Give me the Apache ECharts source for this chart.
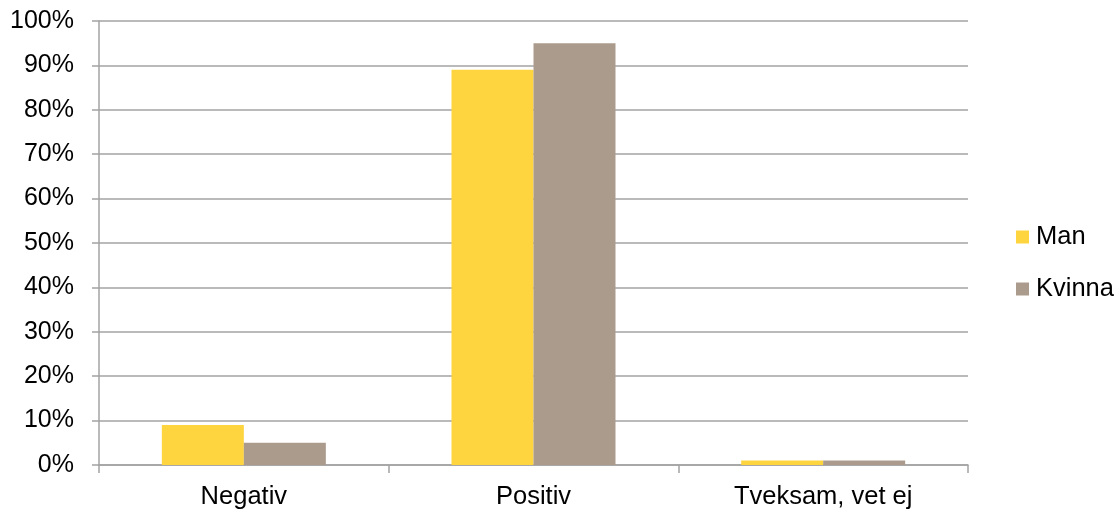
<!DOCTYPE html>
<html><head><meta charset="utf-8">
<script src="https://cdn.jsdelivr.net/npm/echarts@6/dist/echarts.min.js"></script>
<style>html,body{margin:0;padding:0;background:#fff}#c{width:1118px;height:514px}</style>
</head><body><div id="c"></div>
<script>
const categories = ['Negativ', 'Positiv', 'Tveksam, vet ej'];
const seriesNames = ['Man', 'Kvinna'];
const manValues = [9, 89, 1];
const kvinnaValues = [5, 95, 1];
const yTicks = [0, 10, 20, 30, 40, 50, 60, 70, 80, 90, 100];

const chart = echarts.init(document.getElementById('c'), null, {renderer: 'canvas'});
const font = 'Liberation Sans, Arial, sans-serif';
const lineCol = '#a3a3a3';
chart.setOption({
  animation: false,
  textStyle: {fontFamily: font},
  grid: {left: 99, right: 150, top: 21, bottom: 49, containLabel: false},
  legend: {
    orient: 'vertical', left: 1011, top: 219, itemGap: 26,
    itemWidth: 13, itemHeight: 13, icon: 'rect',
    textStyle: {fontSize: 25.5, lineHeight: 26, color: '#000', fontFamily: font, padding: [0, 0, 0, 2]},
    data: seriesNames
  },
  xAxis: {
    type: 'category', data: categories,
    axisLine: {lineStyle: {color: lineCol, width: 1.5}},
    axisTick: {show: true, length: 8, lineStyle: {color: lineCol, width: 1.5}},
    axisLabel: {fontSize: 25.5, color: '#000', margin: 19, fontFamily: font}
  },
  yAxis: {
    type: 'value', min: 0, max: 100, interval: 10,
    axisLine: {show: true, lineStyle: {color: lineCol, width: 1.5}},
    axisTick: {show: true, length: 7, lineStyle: {color: lineCol, width: 1.5}},
    splitLine: {lineStyle: {color: lineCol, width: 1.5}},
    axisLabel: {fontSize: 25, color: '#000', margin: 25, fontFamily: font, padding: [3, 0, 0, 0],
      formatter: v => yTicks.includes(v) ? v + '%' : ''}
  },
  series: [
    {name: seriesNames[0], type: 'bar', data: manValues, barWidth: 82, barGap: '0%',
     itemStyle: {color: '#FED43F'}},
    {name: seriesNames[1], type: 'bar', data: kvinnaValues, barWidth: 82, barGap: '0%',
     itemStyle: {color: '#AB9B8D'}}
  ]
});
</script></body></html>
